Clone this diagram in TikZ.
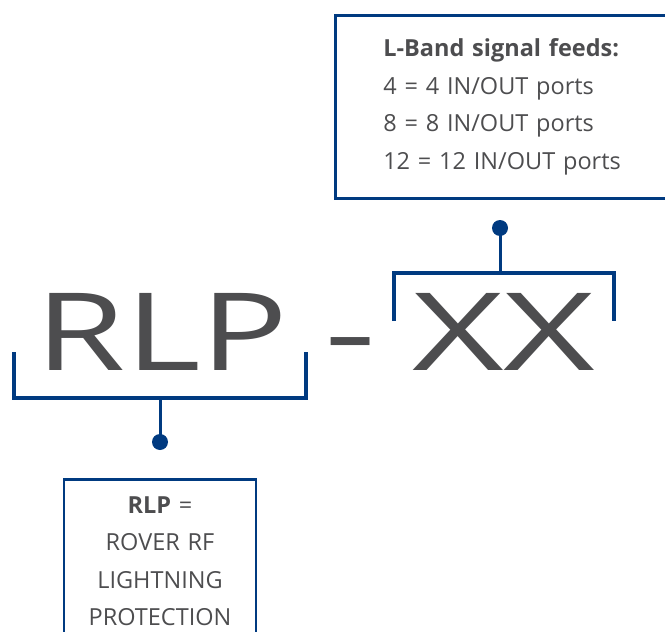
\documentclass[tikz,border=0pt]{standalone}
\usepackage{fontspec}
\usepackage{graphicx}
\setmainfont{Open Sans}
\usetikzlibrary{positioning}
\definecolor{rovblue}{HTML}{003A80}
\definecolor{rovgray}{HTML}{4D4D4F}
\newcommand{\widen}[2]{\scalebox{#1}[1]{#2}}

\begin{document}
\begin{tikzpicture}
[x=1pt,y=-1pt,
infobox/.style={draw=rovblue,line width=2.5pt,text=rovgray,
  font=\fontsize{23.5}{37.5}\selectfont},
bracket/.style={draw=rovblue,line width=4pt},
stem/.style={draw=rovblue,line width=3pt},
dot/.style={circle,fill=rovblue,inner sep=0pt,minimum size=16pt},
big/.style={text=rovgray,inner sep=0pt,anchor=base west,
  font=\fontsize{108}{108}\selectfont}]
\useasboundingbox (0,0) rectangle (665,632);
% part number
\node[big](rlp) at (35,370){\widen{1.35}{RLP}};
\node[big](dash) at (324,370){\widen{1.5}{-}};
\node[big](xx) at (412,370){\widen{1.47}{XX}};
% brackets
\coordinate (rlpA) at (14,352); \coordinate (rlpB) at (14,398);
\coordinate (rlpC) at (306,398); \coordinate (rlpD) at (306,352);
\coordinate (rlpM) at (160,398);
\coordinate (xxA) at (394,321); \coordinate (xxB) at (394,273);
\coordinate (xxC) at (614,273); \coordinate (xxD) at (614,321);
\coordinate (xxM) at (500,273);
\draw[bracket] (rlpA) -- (rlpB) -- (rlpC) -- (rlpD);
\draw[bracket] (xxA) -- (xxB) -- (xxC) -- (xxD);
% dots
\node[dot](rlpdot) at (160,442){};
\node[dot](xxdot) at (500,228){};
\draw[stem] (rlpM) -- (rlpdot.center);
\draw[stem] (xxM) -- (xxdot.center);
% boxes
\node[infobox,anchor=north west,inner xsep=48pt,inner ysep=0pt,
  minimum height=183pt,text width=240pt,align=left](feeds) at (334,14)
  {\textbf{L-Band signal feeds:}\\4 = 4 IN/OUT ports\\8 = 8 IN/OUT ports\\12 = 12 IN/OUT ports};
\node[infobox,anchor=north,inner xsep=0pt,inner ysep=17pt,
  text width=192pt,align=center](meaning) at (160,478)
  {\textbf{RLP} =\\ROVER RF\\LIGHTNING\\PROTECTION};
\end{tikzpicture}
\end{document}
